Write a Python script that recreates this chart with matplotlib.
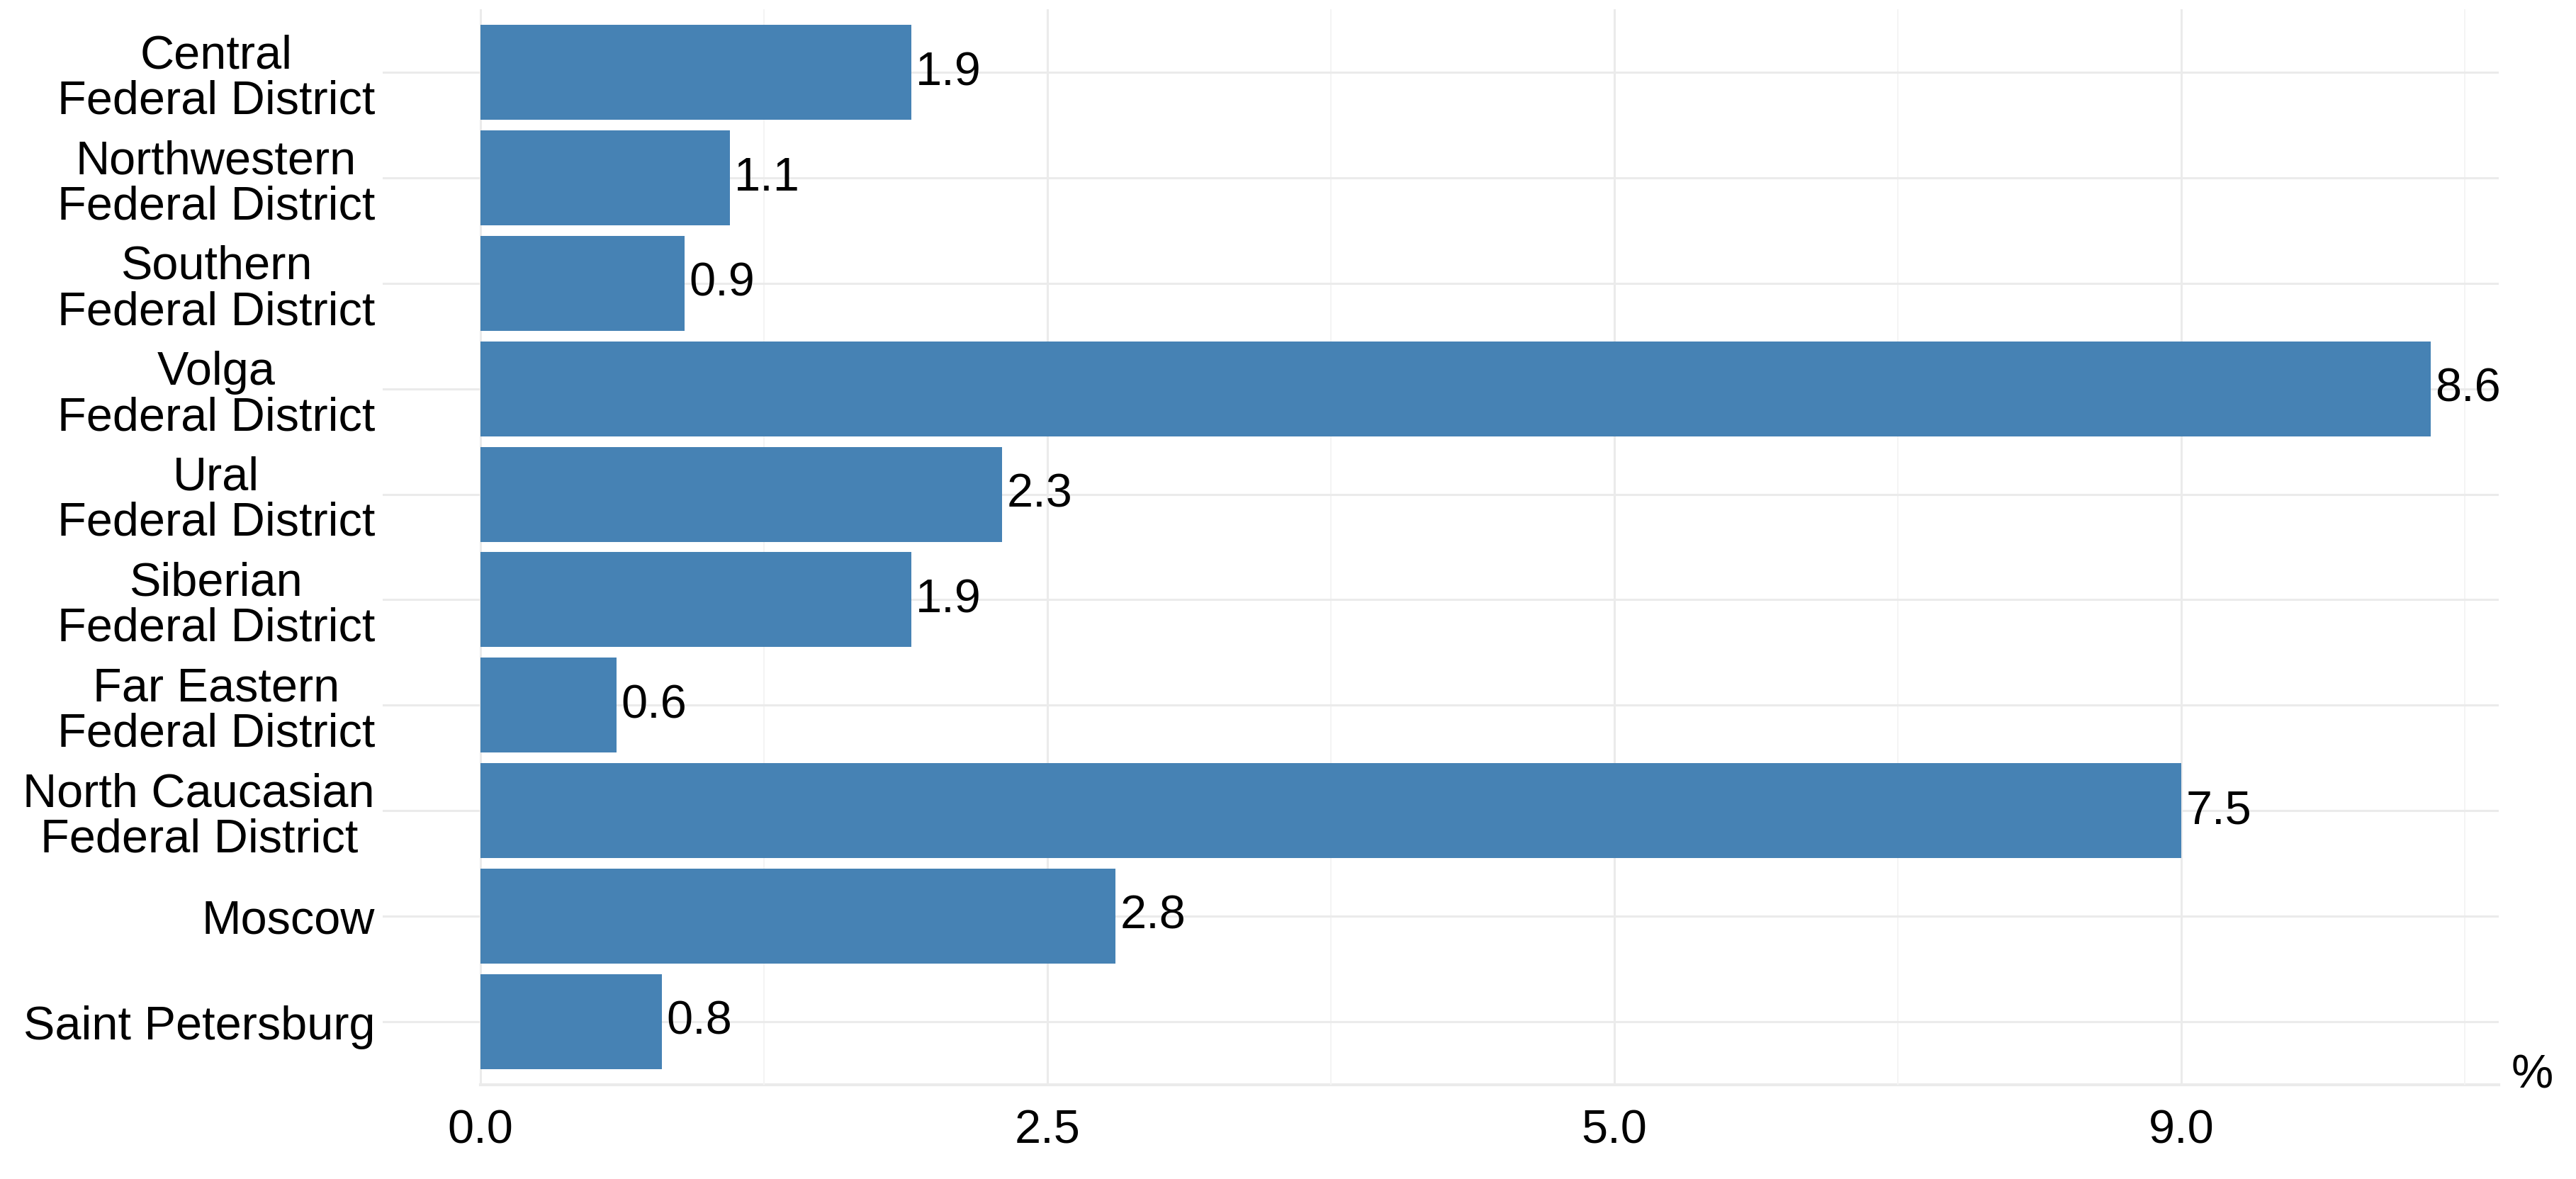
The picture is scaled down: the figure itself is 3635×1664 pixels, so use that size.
import matplotlib
matplotlib.use("Agg")
import matplotlib.pyplot as plt

# data, top to bottom as in the chart
districts = [
    "Central\nFederal District",
    "Northwestern\nFederal District",
    "Southern\nFederal District",
    "Volga\nFederal District",
    "Ural\nFederal District",
    "Siberian\nFederal District",
    "Far Eastern\nFederal District",
    "North Caucasian\nFederal District",
    "Moscow",
    "Saint Petersburg",
]
shares = [1.9, 1.1, 0.9, 8.6, 2.3, 1.9, 0.6, 7.5, 2.8, 0.8]
value_labels = ["1.9", "1.1", "0.9", "8.6", "2.3", "1.9", "0.6", "7.5", "2.8", "0.8"]

x_ticks = [0.0, 2.5, 5.0, 7.5]
x_tick_labels = ["0.0", "2.5", "5.0", "9.0"]
x_minor = [1.25, 3.75, 6.25, 8.75]

plt.rcParams['font.family'] = ['Liberation Sans', 'DejaVu Sans']
FS = 48

fig = plt.figure(figsize=(36.35, 16.65), dpi=100)
ax = fig.add_axes([0.1486, 0.0799, 0.8214, 0.9117])

pos = list(range(len(districts)))
ax.barh(pos, shares, height=0.9, color="#4682B4", zorder=2)

for p, v, lab in zip(pos, shares, value_labels):
    ax.text(v + 0.02, p, lab, va="center", ha="left", fontsize=FS, color="black", zorder=3)

xlo, xhi = -0.43, 8.9
ax.set_xlim(xlo, xhi)
ax.set_ylim(len(districts) - 0.4, -0.6)

ax.set_yticks(pos)
ax.set_yticklabels(districts, fontsize=FS, linespacing=1.05)
for lab in ax.get_yticklabels():
    lab.set_multialignment("center")
ax.set_xticks(x_ticks)
ax.set_xticklabels(x_tick_labels, fontsize=FS)
ax.set_xticks(x_minor, minor=True)

ax.tick_params(axis="both", which="both", length=0)
ax.tick_params(axis="y", pad=8)
ax.tick_params(axis="x", pad=24)

ax.grid(True, which="major", axis="both", color="#ebebeb", linewidth=2.2, zorder=0)
ax.grid(True, which="minor", axis="x", color="#f4f4f4", linewidth=1.4, zorder=0)
ax.set_axisbelow(True)

# faint line along the bottom of the panel, starting at zero
ax.axhline(len(districts) - 0.4, xmin=(0 - xlo) / (xhi - xlo), xmax=1,
           color="#ebebeb", linewidth=3, zorder=0, clip_on=False)

for s in ax.spines.values():
    s.set_visible(False)

fig.text(0.983, 0.088, "%", fontsize=FS, ha="center", va="center")

fig.savefig("out.png", dpi=100, facecolor="white")
